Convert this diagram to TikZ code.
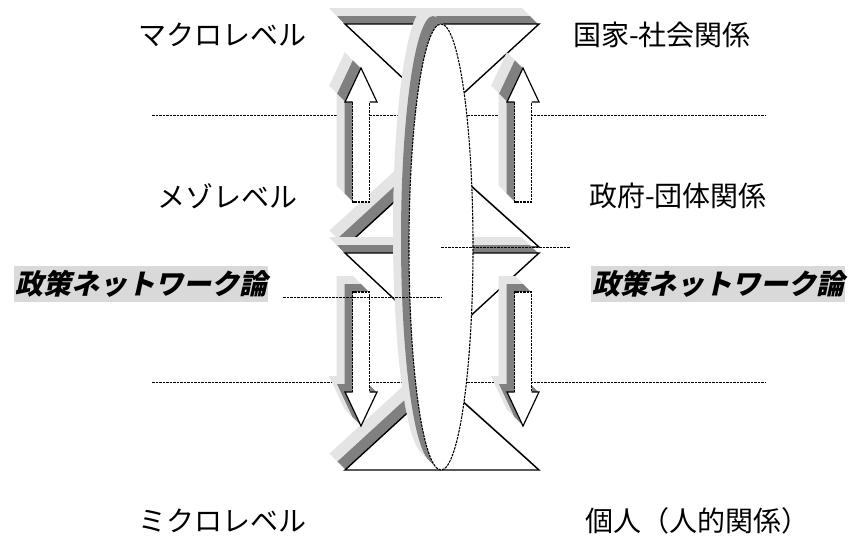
\documentclass[tikz,border=0pt]{standalone}
\usepackage{fontspec}
\newfontfamily\jp{Noto Sans CJK JP}
\newfontfamily\jpsl[FakeSlant=0.22]{Noto Sans CJK JP}
\definecolor{shlight}{HTML}{E4E4E4}
\definecolor{shdark}{HTML}{808080}
\definecolor{labelbg}{HTML}{D9D9D9}
% hourglass: #1 options, #2 top y, #3 bottom y
\newcommand\hgpath[3]{\path[#1] (345,#2)--(539,#2)--(441,#2+90)--cycle (345,#3)--(539,#3)--(441,#3-88)--cycle;}
\newcommand\uparrpath[2]{\path[#1] (#2-8.5,202)--(#2-8.5,102)--(#2-16,102)--(#2,68)--(#2+16,102)--(#2+8.5,102)--(#2+8.5,202)--cycle;}
\newcommand\dnarrpath[2]{\path[#1] (#2-8.5,292)--(#2-8.5,392)--(#2-16,392)--(#2,426)--(#2+16,392)--(#2+8.5,392)--(#2+8.5,292)--cycle;}
\newcommand\upoutline[1]{%
  \draw[shaftline] (#1-8.5,102)--(#1-8.5,202)--(#1+8.5,202)--(#1+8.5,102);
  \draw[headline] (#1+8.5,102)--(#1+16,102)--(#1,68)--(#1-16,102)--(#1-8.5,102);}
\newcommand\dnoutline[1]{%
  \draw[shaftline] (#1-8.5,392)--(#1-8.5,292)--(#1+8.5,292)--(#1+8.5,392);
  \draw[headline] (#1+8.5,392)--(#1+16,392)--(#1,426)--(#1-16,392)--(#1-8.5,392);}
\begin{document}
\begin{tikzpicture}[x=1pt,y=-1pt,
  lbl/.style={font=\jp\fontsize{28}{30}\selectfont, inner sep=0pt},
  keylbl/.style={font=\jpsl\bfseries\fontsize{28}{30}\selectfont, fill=labelbg, inner xsep=1pt, inner ysep=4pt},
  guide/.style={draw=black, dash pattern=on 2.5pt off 1pt, line width=0.9pt},
  edgeline/.style={draw=black, fill=white, line width=1.4pt, line join=miter},
  shaftline/.style={draw=black, dash pattern=on 2.5pt off 1pt, line width=1.1pt},
  headline/.style={draw=black, line width=1.2pt, line join=miter},
  ovalline/.style={draw=black, fill=white, dash pattern=on 2.5pt off 1pt, line width=1.1pt}]
\useasboundingbox (0,0) rectangle (853,541);
\fill[white] (0,0) rectangle (853,541);

% long guide lines (behind)
\coordinate (g1a) at (152,115); \coordinate (g1b) at (765,115);
\coordinate (g2a) at (152,382); \coordinate (g2b) at (765,382);
\draw[guide] (g1a) -- (g1b);
\draw[guide] (g2a) -- (g2b);

% upper hourglass
\foreach \k in {16,...,9}{\hgpath{fill=shlight,shift={(-\k,-\k)}}{24}{247}}
\foreach \k in {8,...,1}{\hgpath{fill=shdark,shift={(-\k,-\k)}}{24}{247}}
\hgpath{edgeline}{24}{247}

% lower hourglass
\foreach \k in {16,...,9}{\hgpath{fill=shlight,shift={(-\k,-\k)}}{253}{470}}
\foreach \k in {8,...,1}{\hgpath{fill=shdark,shift={(-\k,-\k)}}{253}{470}}
\hgpath{edgeline}{253}{470}

% arrows
\foreach \c in {361,523}{
  \foreach \k in {16,...,9}{\uparrpath{fill=shlight,shift={(-\k,-\k)}}{\c}\dnarrpath{fill=shlight,shift={(-\k,-\k)}}{\c}}
  \foreach \k in {8,...,1}{\uparrpath{fill=shdark,shift={(-\k,-\k)}}{\c}\dnarrpath{fill=shdark,shift={(-\k,-\k)}}{\c}}
  \uparrpath{fill=white}{\c}
  \dnarrpath{fill=white}{\c}
  \upoutline{\c}
  \dnoutline{\c}
}

% central oval
\foreach \k in {16,...,9}{\fill[shlight,shift={(-\k,-\k)}] (441,247) ellipse [x radius=32pt, y radius=223pt];}
\foreach \k in {8,...,1}{\fill[shdark,shift={(-\k,-\k)}] (441,247) ellipse [x radius=32pt, y radius=223pt];}
\path[ovalline] (441,247) ellipse [x radius=32pt, y radius=223pt];

% short guide lines (front)
\coordinate (s1a) at (283,297); \coordinate (s1b) at (441,297);
\coordinate (s2a) at (441,247); \coordinate (s2b) at (570,247);
\draw[guide] (s1a) -- (s1b);
\draw[guide] (s2a) -- (s2b);

% labels
\node[lbl] (macro) at (222,35) {マクロレベル};
\node[lbl] (state) at (662,35) {国家-社会関係};
\node[lbl] (meso) at (227,196) {メゾレベル};
\node[lbl] (gov) at (678,196) {政府-団体関係};
\node[keylbl] (pnL) at (141,284) {政策ネットワーク論};
\node[keylbl] (pnR) at (718,284) {政策ネットワーク論};
\node[lbl] (micro) at (222,521) {ミクロレベル};
\node[lbl] (indiv) at (697,521) {個人（人的関係）};
\end{tikzpicture}
\end{document}
